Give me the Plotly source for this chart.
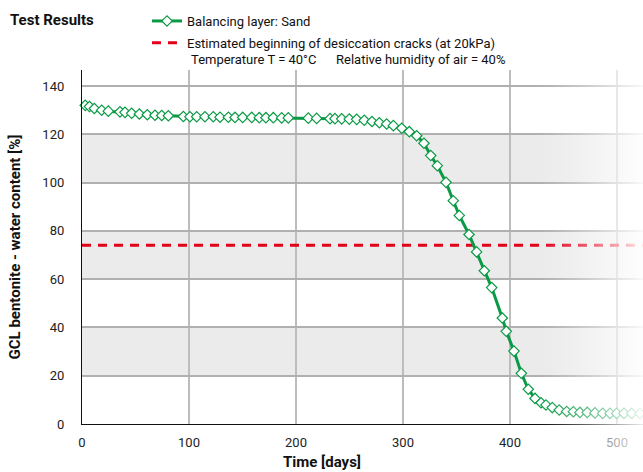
import base64, struct, zlib
import plotly.graph_objects as go

# ---------------- data ----------------
days = [3, 7, 11.5, 18.4, 24.6, 35.5, 40.2, 46.4, 53.6, 61, 68.2, 74.5, 80.7, 94.7,
        100.9, 107.2, 114.9, 122.7, 129, 136.8, 143, 150.2, 158.6, 165.7, 171.9, 178.8,
        186.6, 192.8, 211.5, 219.3, 231.8, 236.4, 242.7, 249.8, 256.7, 263.8, 271,
        277.9, 284.7, 291, 298.8, 305.9, 312.8, 319.6, 325.9, 332.1, 340.2, 347, 352.6,
        361.7, 368.8, 376, 382.9, 392.8, 396.5, 403.7, 410.6, 417.1, 423.4, 429, 433.6,
        439.5, 446, 453, 459.2, 465.4, 472.2, 479.4, 486.6, 493.5, 499.7, 506.5, 513.7,
        521.5]
water = [132, 131.5, 130.7, 130, 129.6, 129.3, 129.1, 128.7, 128.4, 128.1, 127.9, 127.8,
         127.7, 127.4, 127.3, 127.3, 127.3, 127.3, 127.1, 127.1, 127, 127, 127, 126.9,
         126.9, 126.9, 126.8, 126.8, 126.7, 126.6, 126.5, 126.5, 126.4, 126.3, 126.2,
         125.8, 125.3, 124.8, 124.3, 123.6, 122.5, 121.1, 119.4, 116.3, 111.2, 107,
         100.1, 92.5, 86.4, 78.5, 71.3, 63.5, 56.5, 43.9, 38.4, 30.2, 21, 14.4, 10.6,
         8.8, 7.9, 6.8, 5.8, 5.2, 5.1, 4.8, 4.8, 4.6, 4.4, 4.4, 4.4, 4.4, 4.4, 4.4]
crack_days = [0, 530]
crack_level = [74, 74]
x_ticks = [0, 100, 200, 300, 400, 500]
y_ticks = [0, 20, 40, 60, 80, 100, 120, 140]
band_ranges = [(20, 40), (60, 80), (100, 120)]

GREEN = "#0a9a45"
RED = "#e3001b"
FONT = "Roboto, 'Liberation Sans', Arial, sans-serif"

W, H = 643, 472
L, R, T, B = 82, 0, 70, 48
pw = W - L - R
ph = H - T - B


def px_x(p):
    return (p - L) / pw


def px_y(p):
    return (H - B - p) / ph


# ---------------- gradient fade image ----------------
def gradient_png(n, power=1.3):
    row = b"\x00"
    for i in range(n):
        a = (i / (n - 1)) ** power
        a = min(1.0, a)
        row += bytes([255, 255, 255, int(round(a * 255))])
    rows = row * 2

    def chunk(tag, data):
        c = struct.pack(">I", len(data)) + tag + data
        return c + struct.pack(">I", zlib.crc32(tag + data) & 0xffffffff)
    png = b"\x89PNG\r\n\x1a\n"
    png += chunk(b"IHDR", struct.pack(">IIBBBBB", n, 2, 8, 6, 0, 0, 0))
    png += chunk(b"IDAT", zlib.compress(rows))
    png += chunk(b"IEND", b"")
    return "data:image/png;base64," + base64.b64encode(png).decode()


fig = go.Figure()

fig.add_trace(go.Scatter(
    x=crack_days, y=crack_level, mode="lines",
    name="Estimated beginning of desiccation cracks (at 20kPa)",
    line=dict(color=RED, width=3, dash="9px,7px"),
    legendgroup="b", legendrank=2, cliponaxis=True,
))
fig.add_trace(go.Scatter(
    x=days, y=water, mode="lines+markers",
    name="Balancing layer: Sand",
    line=dict(color=GREEN, width=3),
    marker=dict(symbol="diamond", size=8, color="white",
                line=dict(color=GREEN, width=1.2)),
    legendgroup="a", legendrank=1, cliponaxis=False,
))

shapes = []
for lo, hi in band_ranges:
    shapes.append(dict(type="rect", xref="paper", yref="y", x0=0, x1=1, y0=lo, y1=hi,
                       fillcolor="#ebebeb", line=dict(width=0), layer="below"))

fig.update_layout(
    width=W, height=H,
    margin=dict(l=L, r=R, t=T, b=B),
    paper_bgcolor="white", plot_bgcolor="white",
    font=dict(family=FONT, size=13, color="#222"),
    shapes=shapes,
    showlegend=True,
    legend=dict(x=px_x(147), y=px_y(6), xanchor="left", yanchor="top",
                bgcolor="rgba(0,0,0,0)", tracegroupgap=2,
                font=dict(size=13, color="#111"), traceorder="grouped"),
    xaxis=dict(range=[0, pw / 1.07], tickvals=x_ticks, showgrid=True,
               gridcolor="#bdbdbd", gridwidth=1.5, zeroline=False,
               showline=True, linecolor="#111", linewidth=1.3,
               ticks="", ticklabelstandoff=6,
               tickfont=dict(size=13, color="#222")),
    yaxis=dict(range=[0, ph / 2.414], tickvals=y_ticks, showgrid=True,
               gridcolor="#b0b0b0", gridwidth=1.5, zeroline=False,
               showline=True, linecolor="#111", linewidth=1.3,
               ticks="", ticklabelstandoff=14,
               tickfont=dict(size=13, color="#222"),
               title=dict(text="<b>GCL bentonite - water content [%]</b>",
                          font=dict(size=15, color="#111"), standoff=18)),
    images=[dict(source=gradient_png(64), xref="paper", yref="paper",
                 x=px_x(532), y=px_y(60), sizex=px_x(652) - px_x(532),
                 sizey=px_y(60) - px_y(480), xanchor="left", yanchor="top",
                 sizing="stretch", layer="above", opacity=1)],
    annotations=[
        dict(text="<b>Test Results</b>", xref="paper", yref="paper",
             x=px_x(8), y=px_y(20), xanchor="left", yanchor="middle",
             showarrow=False, font=dict(size=15, color="#111")),
        dict(text="Temperature T = 40°C", xref="paper", yref="paper",
             x=px_x(189), y=px_y(59), xanchor="left", yanchor="middle",
             showarrow=False, font=dict(size=13, color="#111")),
        dict(text="Relative humidity of air = 40%", xref="paper", yref="paper",
             x=px_x(334), y=px_y(59), xanchor="left", yanchor="middle",
             showarrow=False, font=dict(size=13, color="#111")),
        dict(text="<b>Time [days]</b>", xref="paper", yref="paper",
             x=px_x(322), y=px_y(462), xanchor="center", yanchor="middle",
             showarrow=False, font=dict(size=15, color="#111")),
    ],
)

fig.write_html("out.html", config={"displayModeBar": False},
               post_script="document.body.style.margin='0';")
